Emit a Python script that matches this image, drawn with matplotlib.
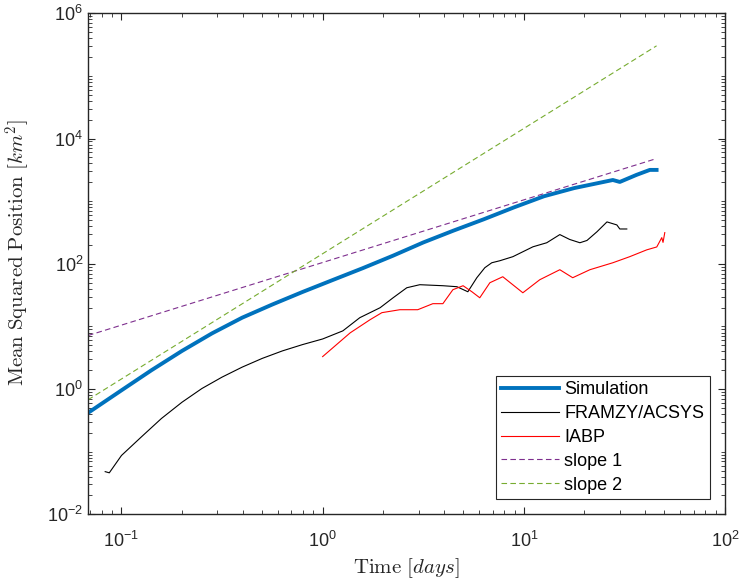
import matplotlib
matplotlib.use('Agg')
import matplotlib.pyplot as plt
import numpy as np
from matplotlib.ticker import FixedLocator, LogFormatterSciNotation, NullFormatter

# values (time in days, MSD in km^2)
t_sim = [0.0682, 0.1, 0.141, 0.2, 0.282, 0.398, 0.562, 0.794, 1.12, 1.58,
         2.24, 3.16, 4.47, 6.31, 8.91, 12.6, 17.8, 25.1, 27.7, 30.0, 36.3,
         42.3, 45.7]
y_sim = [0.417, 0.955, 2.0, 4.07, 7.76, 13.8, 22.4, 35.5, 55, 85,
         135, 219, 339, 513, 794, 1200, 1620, 2040, 2180, 2030, 2630,
         3160, 3160]

t_fram = [0.083, 0.087, 0.1, 0.126, 0.158, 0.2, 0.251, 0.316, 0.398, 0.501, 0.631,
          0.794, 1.0, 1.26, 1.53, 1.93, 2.24, 2.62, 3.04, 3.96, 4.65, 5.27, 5.84,
          6.40, 6.93, 7.60, 8.82, 11.1, 13.0, 15.1, 16.9, 19.0, 20.6, 23.1,
          25.9, 29.0, 30.0, 32.5]
y_fram = [0.048, 0.046, 0.087, 0.174, 0.339, 0.617, 1.02, 1.55, 2.24, 3.09, 4.07,
          5.13, 6.31, 8.5, 13.8, 19.9, 28.7, 41.5, 46.4, 44.7, 43.1, 35.8, 60,
          86.7, 104, 112, 130, 187, 217, 293, 245, 217, 236, 325,
          467, 418, 360, 360]

t_iabp = [1.0, 1.37, 1.72, 1.97, 2.42, 2.97, 3.53, 3.96, 4.44, 4.99, 5.52, 6.04,
          6.78, 7.86, 9.89, 12.0, 15.1, 17.5, 21.3, 27.7, 33.6, 40.8, 45.8,
          48.5, 49.2, 50.2]
y_iabp = [3.3, 7.9, 12.8, 16.6, 18.5, 18.5, 23.1, 23.1, 38.6, 44.7, 35.8, 28.7,
          49.9, 62.2, 34.5, 55.7, 80.5, 60, 80.5, 104, 130, 167, 186,
          262, 220, 315]

t_ref = [0.0682, 45.7]
c_slope1 = 105
c_slope2 = 145

plt.rcParams['font.family'] = ['Liberation Sans', 'DejaVu Sans']
plt.rcParams['mathtext.fontset'] = 'cm'

fig = plt.figure(figsize=(7.41, 5.82), dpi=100)
ax = fig.add_axes([0.1188, 0.1163, 0.8596, 0.8608])

ax.loglog(t_sim, y_sim, color='#0072BD', lw=2.8, label='Simulation')
ax.loglog(t_fram, y_fram, color='black', lw=0.8, label='FRAMZY/ACSYS')
ax.loglog(t_iabp, y_iabp, color='#FF0000', lw=0.8, label='IABP')
tr = np.array(t_ref)
ax.loglog(tr, c_slope1 * tr, '--', color='#7E2F8E', lw=0.8, dashes=(5, 3), label='slope 1')
ax.loglog(tr, c_slope2 * tr**2, '--', color='#77AC30', lw=0.8, dashes=(5, 3), label='slope 2')

ax.set_xlim(t_ref[0], 100)
ax.set_ylim(1e-2, 1e6)

ax.xaxis.set_major_locator(FixedLocator([1e-1, 1e0, 1e1, 1e2]))
ax.yaxis.set_major_locator(FixedLocator([1e-2, 1e0, 1e2, 1e4, 1e6]))
xminor = [k * 10.0**n for n in range(-2, 2) for k in range(2, 10)]
yminor = [k * 10.0**n for n in range(-2, 6) for k in range(1, 10)
          if not (k == 1 and n % 2 == 0)]
ax.xaxis.set_minor_locator(FixedLocator(xminor))
ax.yaxis.set_minor_locator(FixedLocator(yminor))
ax.xaxis.set_major_formatter(LogFormatterSciNotation())
ax.yaxis.set_major_formatter(LogFormatterSciNotation())
ax.xaxis.set_minor_formatter(NullFormatter())
ax.yaxis.set_minor_formatter(NullFormatter())

for s in ax.spines.values():
    s.set_color('#262626')
    s.set_linewidth(1.0)
ax.tick_params(which='both', direction='in', top=True, right=True,
               color='#262626', labelcolor='#262626', labelsize=13)
ax.tick_params(which='major', length=5, width=0.8)
ax.tick_params(which='minor', length=3, width=0.6)
ax.tick_params(axis='x', pad=12)

ax.set_xlabel(r'$\mathrm{Time}\ [days]$', fontsize=15, color='#262626', labelpad=4)
ax.set_ylabel(r'$\mathrm{Mean\ Squared\ Position}\ [km^2]$', fontsize=15,
              color='#262626')
ax.yaxis.set_label_coords(-0.088, 0.523)

leg = ax.legend(loc='lower right', fontsize=13, handlelength=3.2,
                handletextpad=0.3, labelspacing=0.38, borderpad=0.3,
                borderaxespad=0.85, fancybox=False, framealpha=1)
leg.get_frame().set_edgecolor('#262626')
leg.get_frame().set_linewidth(0.8)

fig.savefig('out.png', dpi=100)
